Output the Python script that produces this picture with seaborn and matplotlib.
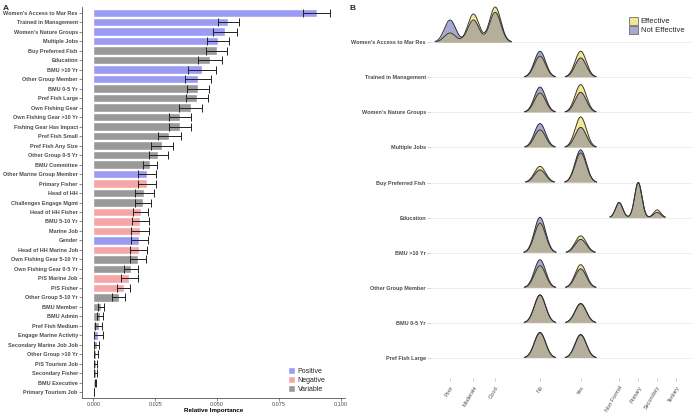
import numpy as np
import pandas as pd
import seaborn as sns
from matplotlib import pyplot as plt
from matplotlib.patches import Patch

sns.set_style('white')
plt.rcParams['font.family'] = ['Liberation Sans', 'DejaVu Sans']

#%% panel A data
features = ["Women's Access to Mar Res", 'Trained in Management', "Women's Nature Groups",
            'Multiple Jobs', 'Buy Preferred Fish', 'Education', 'BMU >10 Yr',
            'Other Group Member', 'BMU 0-5 Yr', 'Pref Fish Large', 'Own Fishing Gear',
            'Own Fishing Gear >10 Yr', 'Fishing Gear Has Impact', 'Pref Fish Small',
            'Pref Fish Any Size', 'Other Group 0-5 Yr', 'BMU Committee',
            'Other Marine Group Member', 'Primary Fisher', 'Head of HH',
            'Challenges Engage Mgmt', 'Head of HH Fisher', 'BMU 5-10 Yr', 'Marine Job',
            'Gender', 'Head of HH Marine Job', 'Own Fishing Gear 5-10 Yr',
            'Own Fishing Gear 0-5 Yr', 'P/S Marine Job', 'P/S Fisher',
            'Other Group 5-10 Yr', 'BMU Member', 'BMU Admin', 'Pref Fish Medium',
            'Engage Marine Activity', 'Secondary Marine Job Job', 'Other Group >10 Yr',
            'P/S Tourism Job', 'Secondary Fisher', 'BMU Executive', 'Primary Tourism Job']
importance = [0.0902, 0.0546, 0.0532, 0.0505, 0.0498, 0.0471, 0.0438, 0.0424, 0.0424,
              0.0418, 0.0393, 0.0350, 0.0350, 0.0307, 0.0278, 0.0263, 0.0229, 0.0218,
              0.0218, 0.0206, 0.0201, 0.0191, 0.0190, 0.0189, 0.0186, 0.0183, 0.0181,
              0.0152, 0.0146, 0.0123, 0.0103, 0.0030, 0.0027, 0.0021, 0.0020, 0.0014,
              0.0011, 0.0010, 0.0009, 0.0008, 0.0003]
importance_err = [0.0056, 0.0043, 0.0050, 0.0045, 0.0043, 0.0050, 0.0056, 0.0052, 0.0045,
                  0.0044, 0.0045, 0.0043, 0.0045, 0.0046, 0.0046, 0.0037, 0.0030, 0.0036,
                  0.0037, 0.0038, 0.0033, 0.0032, 0.0034, 0.0038, 0.0034, 0.0033, 0.0031,
                  0.0029, 0.0036, 0.0027, 0.0026, 0.0013, 0.0011, 0.0014, 0.0018, 0.0010,
                  0.0007, 0.0006, 0.0005, 0.0003, 0.0001]
direction = ['Positive', 'Positive', 'Positive', 'Positive', 'Variable', 'Variable',
             'Positive', 'Positive', 'Variable', 'Variable', 'Variable', 'Variable',
             'Variable', 'Variable', 'Variable', 'Variable', 'Variable', 'Positive',
             'Negative', 'Variable', 'Variable', 'Negative', 'Negative', 'Negative',
             'Positive', 'Negative', 'Variable', 'Variable', 'Negative', 'Negative',
             'Variable', 'Variable', 'Variable', 'Variable', 'Positive', 'Variable',
             'Variable', 'Variable', 'Variable', 'Variable', 'Variable']

#%% panel B data (peak heights of the ridges, in row units)
ridge_vars = ["Women's Access to Mar Res", 'Trained in Management', "Women's Nature Groups",
              'Multiple Jobs', 'Buy Preferred Fish', 'Education', 'BMU >10 Yr',
              'Other Group Member', 'BMU 0-5 Yr', 'Pref Fish Large']
levels = ['Poor', 'Moderate', 'Good', 'No', 'Yes', 'Non Formal', 'Primary', 'Secondary', 'Tertiary']
#              Poor  Mod  Good   No   Yes   NF   Prim  Sec  Ter
eff_peak = [[0.26, 0.80, 1.00, 0, 0, 0, 0, 0, 0],
            [0, 0, 0, 0.60, 0.74, 0, 0, 0, 0],
            [0, 0, 0, 0.55, 0.79, 0, 0, 0, 0],
            [0, 0, 0, 0.50, 0.87, 0, 0, 0, 0],
            [0, 0, 0, 0.46, 0.84, 0, 0, 0, 0],
            [0, 0, 0, 0, 0, 0.43, 1.00, 0.22, 0],
            [0, 0, 0, 0.84, 0.48, 0, 0, 0, 0],
            [0, 0, 0, 0.63, 0.66, 0, 0, 0, 0],
            [0, 0, 0, 0.79, 0.55, 0, 0, 0, 0],
            [0, 0, 0, 0.72, 0.67, 0, 0, 0, 0]]
noteff_peak = [[0.63, 0.63, 0.85, 0, 0, 0, 0, 0, 0],
               [0, 0, 0, 0.74, 0.55, 0, 0, 0, 0],
               [0, 0, 0, 0.72, 0.57, 0, 0, 0, 0],
               [0, 0, 0, 0.68, 0.57, 0, 0, 0, 0],
               [0, 0, 0, 0.36, 0.93, 0, 0, 0, 0],
               [0, 0, 0, 0, 0, 0.43, 1.00, 0.15, 0],
               [0, 0, 0, 1.01, 0.38, 0, 0, 0, 0],
               [0, 0, 0, 0.80, 0.54, 0, 0, 0, 0],
               [0, 0, 0, 0.80, 0.55, 0, 0, 0, 0],
               [0, 0, 0, 0.73, 0.66, 0, 0, 0, 0]]
ridge_bw = [0.25, 0.25, 0.25, 0.25, 0.25, 0.16, 0.25, 0.25, 0.25, 0.25]

# layout of the discrete x levels in panel B
level_pos = [0, 1.04, 2.01, 4.0, 5.81, 7.52, 8.37, 9.21, 10.05]

pal = {'Positive': '#9b9bf3', 'Negative': '#f5a6a6', 'Variable': '#999999'}
c_eff = '#f1e897'
c_not = '#a8a8d0'
c_both = '#b5ae9b'
txtc = '#4d4d4d'
fs = 3.95

#%%
fig = plt.figure(figsize=(6.92, 4.13), dpi=100)
axA = fig.add_axes([82/692, 1-398/413, (345-82)/692, (398-7)/413])
axB = fig.add_axes([430/692, 1-378/413, (692-430)/692, 378/413])

fig.text(3/692, 1-8/413, 'A', fontsize=6, fontweight='bold', va='center')
fig.text(349/692, 1-8/413, 'B', fontsize=6, fontweight='bold', va='center')

#%% panel A
df = pd.DataFrame({'feature': features, 'imp': importance, 'err': importance_err, 'dir': direction})
sns.barplot(data=df, x='imp', y='feature', hue='dir', palette=pal, dodge=False,
            width=0.88, saturation=1, errorbar=None, legend=False, ax=axA)
axA.errorbar(df['imp'], np.arange(len(df)), xerr=df['err'], fmt='none', ecolor='#222222',
             elinewidth=0.7, capsize=2.9, capthick=0.7, zorder=5)

axA.set_xlim(-0.00457, 0.1017)
axA.set_ylim(len(df)-0.4, -0.6)
axA.set_xticks([0, 0.025, 0.05, 0.075, 0.1])
axA.set_xticklabels(['0.000', '0.025', '0.050', '0.075', '0.100'])
axA.set_xlabel('Relative Importance', fontsize=4.5, fontweight='bold', labelpad=0.5, color='k')
axA.set_ylabel('')
axA.tick_params(axis='both', labelsize=fs, length=2, width=0.4, color='#333333', pad=1,
                labelcolor=txtc, left=True, bottom=True)
axA.tick_params(axis='x', pad=0.8)
for lab in axA.get_yticklabels():
    lab.set_fontweight('bold')
sns.despine(ax=axA)
for s in ['left', 'bottom']:
    axA.spines[s].set_linewidth(0.5)
    axA.spines[s].set_color('#333333')

handles = [Patch(facecolor=pal[k], label=k) for k in ['Positive', 'Negative', 'Variable']]
axA.legend(handles=handles, loc='lower left', bbox_to_anchor=(0.765, 0.0), frameon=False,
           fontsize=5, handlelength=1.0, handleheight=1.2, labelspacing=0.15,
           handletextpad=0.4, borderpad=0.2)

#%% panel B
xg = np.linspace(-0.9, 10.8, 1200)
thr = 0.015
nrow = len(ridge_vars)
for i, var in enumerate(ridge_vars):
    base = nrow - 1 - i
    de = np.zeros_like(xg)
    dn = np.zeros_like(xg)
    for p, he, hn in zip(level_pos, eff_peak[i], noteff_peak[i]):
        k = np.exp(-(xg - p)**2 / (2*ridge_bw[i]**2))
        de += he*k
        dn += hn*k
    z = 2 + i*0.1
    axB.fill_between(xg, base, base+dn, where=dn > thr, color=c_not, lw=0, zorder=z)
    axB.fill_between(xg, base, base+de, where=de > thr, color=c_eff, lw=0, zorder=z)
    dm = np.minimum(de, dn)
    axB.fill_between(xg, base, base+dm, where=dm > thr, color=c_both, lw=0, zorder=z+0.01)
    axB.plot(xg, np.where(de > thr, base+de, np.nan), color='#3d3a2a', lw=0.7, zorder=z+0.02)
    axB.plot(xg, np.where(dn > thr, base+dn, np.nan), color='#2e2e40', lw=0.7, zorder=z+0.03)

axB.set_xlim(-0.89, 10.76)
axB.set_ylim(-0.57, 10.2)
axB.set_yticks(np.arange(nrow))
axB.set_yticklabels(ridge_vars[::-1], fontweight='bold')
axB.set_xticks(level_pos)
axB.set_xticklabels(levels, rotation=60, ha='right', rotation_mode='anchor')
axB.tick_params(axis='both', labelsize=fs, length=2, width=0.4, color='#aaaaaa', pad=1,
                labelcolor=txtc, left=True, bottom=True)
axB.tick_params(axis='x', pad=3)
axB.grid(axis='y', color='#ebebeb', lw=0.6, zorder=0)
axB.grid(axis='x', visible=False)
axB.set_axisbelow(True)
for s in axB.spines.values():
    s.set_visible(False)

handles = [Patch(facecolor=c_eff, edgecolor='#555555', lw=0.5, label='Effective'),
           Patch(facecolor=c_not, edgecolor='#555555', lw=0.5, label='Not Effective')]
axB.legend(handles=handles, loc='upper left', bbox_to_anchor=(0.74, 0.97), frameon=False,
           fontsize=5.5, handlelength=1.1, handleheight=1.2, labelspacing=0.1,
           handletextpad=0.4, borderpad=0.2)

fig.savefig('out.png', dpi=100)
